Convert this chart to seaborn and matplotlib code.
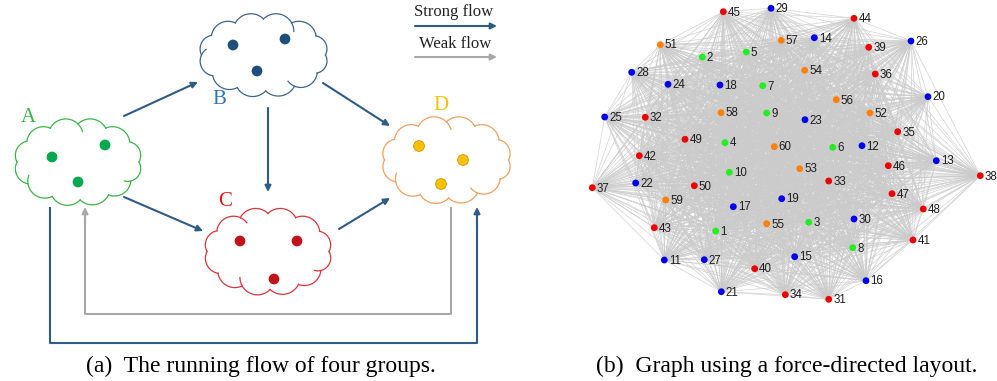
import numpy as np
import pandas as pd
import matplotlib
matplotlib.use("Agg")
import matplotlib.pyplot as plt
import seaborn as sns
from matplotlib.collections import LineCollection

# ---- panel (b): node positions (pixels) ----
node_ids = [1, 2, 3, 4, 5, 6, 7, 8, 9, 10,
            11, 12, 13, 14, 15, 16, 17, 18, 19, 20,
            21, 22, 23, 24, 25, 26, 27, 28, 29, 30,
            31, 32, 33, 34, 35, 36, 37, 38, 39, 40,
            41, 42, 43, 44, 45, 46, 47, 48, 49, 50,
            51, 52, 53, 54, 55, 56, 57, 58, 59, 60]
node_x = [715.7, 702.3, 808.7, 725.0, 746.3, 832.7, 762.7, 852.7, 766.7, 729.3,
          664.3, 862.0, 936.3, 814.3, 794.7, 866.0, 733.3, 720.0, 781.7, 928.0,
          721.3, 635.7, 805.0, 668.0, 604.7, 911.0, 704.3, 631.7, 771.0, 854.0,
          828.7, 645.3, 828.7, 785.3, 897.7, 875.3, 592.3, 980.3, 868.7, 754.7,
          913.0, 639.3, 654.3, 854.0, 723.3, 888.3, 892.0, 923.3, 685.0, 694.3,
          660.3, 870.0, 799.7, 804.7, 766.7, 836.3, 781.3, 721.0, 665.7, 774.3]
node_y = [231.0, 57.0, 222.3, 142.7, 52.0, 147.3, 85.7, 247.7, 113.0, 172.3,
          260.0, 145.7, 160.7, 37.7, 256.7, 280.7, 206.7, 85.0, 198.7, 96.7,
          291.7, 183.0, 119.7, 84.3, 117.0, 41.0, 259.7, 72.3, 8.3, 219.0,
          299.3, 117.3, 181.0, 294.7, 131.7, 74.0, 187.7, 175.7, 47.3, 268.7,
          240.0, 155.7, 227.7, 18.3, 11.7, 165.7, 193.7, 209.0, 139.3, 185.7,
          44.7, 113.0, 168.7, 70.3, 223.7, 99.7, 40.3, 112.7, 200.0, 146.7]
group_A = list(range(1, 11))    # green
group_B = list(range(11, 31))   # blue
group_C = list(range(31, 51))   # red
group_D = list(range(51, 61))   # orange

# ---- panel (a): dots inside the clouds (pixels) ----
dot_group = ["A", "A", "A", "B", "B", "B", "C", "C", "C", "D", "D", "D"]
dot_x = [52, 105, 78, 233, 285, 257, 240, 297, 274, 419, 463, 441]
dot_y = [157, 145, 182, 45, 39, 71, 241, 241, 279, 146, 160, 184]

strong = "#2f5b87"
weak = "#a8a8a8"
serif = "Liberation Serif"

fig = plt.figure(figsize=(9.97, 3.81), dpi=100)
ax = fig.add_axes([0, 0, 1, 1])
ax.set_xlim(0, 997)
ax.set_ylim(381, 0)
ax.axis("off")


def cloud(cx, cy, a, b, angles, sag, color, curls=()):
    ang = np.radians(angles)
    pts = np.c_[cx + a * np.cos(ang), cy + b * np.sin(ang)]
    n = len(pts)
    for i in range(n):
        p0, p1 = pts[i], pts[(i + 1) % n]
        m = (p0 + p1) / 2
        d = p1 - p0
        c = np.hypot(*d) / 2
        nrm = np.array([d[1], -d[0]]) / (2 * c)
        if np.dot(nrm, m - [cx, cy]) < 0:
            nrm = -nrm
        s = sag * c
        r = (c ** 2 + s ** 2) / (2 * s)
        o = m - nrm * (r - s)
        t0 = np.arctan2(*(p0 - o)[::-1])
        t1 = np.arctan2(*(p1 - o)[::-1])
        dt = (t1 - t0 + np.pi) % (2 * np.pi) - np.pi
        extra = 0.5 * np.sign(dt) if i in curls else 0
        t = np.linspace(t0, t0 + dt + extra, 40)
        ax.plot(o[0] + r * np.cos(t), o[1] + r * np.sin(t), color=color, lw=0.9, zorder=2)
    ax.fill(pts[:, 0], pts[:, 1], color="white", zorder=1)


angles = [0, 30, 60, 88, 115, 145, 180, 213, 243, 270, 297, 328]
cloud(78, 162, 61, 38, angles, 0.5, "#3cb54a", curls=(0, 4, 8))
cloud(263.5, 55, 62, 36, angles, 0.5, "#41648c", curls=(1, 5, 9))
cloud(268, 251.5, 61, 38, angles, 0.5, "#d9363e", curls=(0, 3, 7))
cloud(446.5, 160, 62, 38, angles, 0.5, "#f0a060", curls=(1, 4, 8))

dots = pd.DataFrame({"group": dot_group, "x": dot_x, "y": dot_y})
sns.scatterplot(data=dots, x="x", y="y", hue="group", ax=ax, s=60, legend=False,
                palette={"A": "#00a84f", "B": "#1f4e79", "C": "#c0141b", "D": "#ffc000"},
                edgecolor=["none"] * 9 + ["#c99700"] * 3, linewidth=0.6, zorder=4)

for lbl, lx, ly, col in [("A", 28, 117, "#3cb54a"), ("B", 219, 99, "#2e75b6"),
                         ("C", 225, 202, "#ee1111"), ("D", 441, 106, "#ffc000")]:
    ax.text(lx, ly, lbl, color=col, fontsize=15, family=serif, ha="center", va="center")


def arrow(p0, p1, col):
    ax.annotate("", xy=p1, xytext=p0,
                arrowprops=dict(arrowstyle="-|>", color=col, lw=1.5, mutation_scale=9,
                                shrinkA=0, shrinkB=0))


arrow((124, 116), (198, 82), strong)
arrow((268, 108), (268, 192), strong)
arrow((323, 83), (390, 126), strong)
arrow((124, 197), (203, 231), strong)
arrow((339, 229), (390, 198), strong)
ax.plot([50, 50, 477, 477], [208, 343, 343, 220], color=strong, lw=1.5)
arrow((477, 225), (477, 207), strong)
ax.plot([451, 451, 85, 85], [208, 314, 314, 220], color=weak, lw=1.5)
arrow((85, 225), (85, 207), weak)

ax.text(454, 12, "Strong flow", fontsize=12, family=serif, ha="center", va="center", color="#222222")
arrow((415, 26), (497, 26), strong)
ax.text(455, 44, "Weak flow", fontsize=12, family=serif, ha="center", va="center", color="#222222")
arrow((415, 57), (497, 57), weak)

# ---- panel (b) graph ----
gmap = {}
for g, ids in [("A", group_A), ("B", group_B), ("C", group_C), ("D", group_D)]:
    for k in ids:
        gmap[k] = g
nodes = pd.DataFrame({"id": node_ids, "x": node_x, "y": node_y})
nodes["group"] = nodes["id"].map(gmap)

xy = nodes.set_index("id")[["x", "y"]]
segs = []
for i in node_ids:
    for j in node_ids:
        if i < j:
            segs.append([xy.loc[i].values, xy.loc[j].values])
ax.add_collection(LineCollection(segs, colors="#cbcbcb", linewidths=0.5, alpha=0.85, zorder=1))

sns.scatterplot(data=nodes, x="x", y="y", hue="group", ax=ax, s=24, legend=False,
                palette={"A": "#22ee22", "B": "#0000ee", "C": "#ee0000", "D": "#ff8000"},
                edgecolor="none", zorder=3)
for _, row in nodes.iterrows():
    ax.text(row.x + 4.5, row.y + 0.8, str(row.id), fontsize=8.3, family="Liberation Sans",
            ha="left", va="center", color="#1e1e1e", zorder=4)

ax.text(261, 366, "(a)  The running flow of four groups.", fontsize=17, family=serif,
        ha="center", va="center", color="black")
ax.text(787, 366, "(b)  Graph using a force-directed layout.", fontsize=17, family=serif,
        ha="center", va="center", color="black")

fig.savefig("out.png", dpi=100)
